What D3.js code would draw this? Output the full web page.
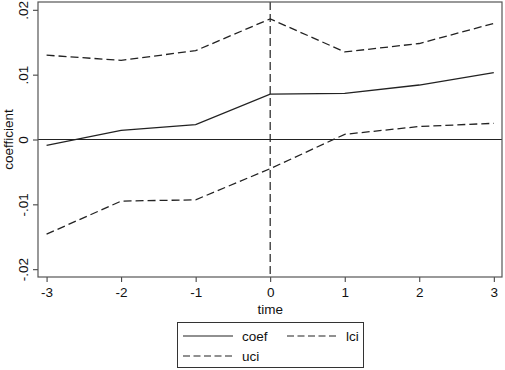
<html lang="en">
<head>
<meta charset="utf-8">
<title>coefficient by time</title>
<style>
    body { margin: 0; background-color: white; font-family: "Liberation Sans", Arial, sans-serif; }
    svg { background-color: white; display: block; }
    .axis path { display: none; }
    .axis line { stroke: #333; }
    .axis text { font-family: "Liberation Sans", Arial, sans-serif; font-size: 13.5px; fill: #111; }
    .title { font-size: 13.5px; fill: #111; }
    .legend text { font-size: 13.5px; fill: #111; }
</style>
</head>
<body>
<script src="https://cdnjs.cloudflare.com/ajax/libs/d3/7.8.5/d3.min.js"></script>
<script>
    // data
    var times = [-3, -2, -1, 0, 1, 2, 3];
    var coef = [-0.0009, 0.0014, 0.0023, 0.0070, 0.0071, 0.0084, 0.0103];
    var lci = [-0.0146, -0.0095, -0.0093, -0.0045, 0.0008, 0.0020, 0.0025];
    var uci = [0.0130, 0.0122, 0.0137, 0.0186, 0.0135, 0.0148, 0.0179];
    var yTicks = [-0.02, -0.01, 0, 0.01, 0.02];
    var xTicks = [-3, -2, -1, 0, 1, 2, 3];

    var fullwidth = 505, fullheight = 370;
    var margin = { top: 2, right: 3, bottom: 93, left: 38 };
    var width = fullwidth - margin.left - margin.right;
    var height = fullheight - margin.top - margin.bottom;

    var root = d3.select("body").append("svg")
        .attr("width", fullwidth)
        .attr("height", fullheight);

    var svg = root.append("g")
        .attr("transform", "translate(" + margin.left + "," + margin.top + ")");

    var xScale = d3.scaleLinear().domain([-3.115, 3.11]).range([0, width]);
    var yScale = d3.scaleLinear().domain([-0.0212, 0.0212]).range([height, 0]);

    // stata style labels: ".01", "-.02", plain hyphen
    var yFmt = function(d) {
        if (d === 0) return "0";
        var s = Math.abs(d).toFixed(2).replace(/^0/, "");
        return (d < 0 ? "-" : "") + s;
    };
    var xFmt = function(d) { return (d < 0 ? "-" : "") + Math.abs(d); };

    var yAxis = d3.axisLeft(yScale).tickValues(yTicks).tickSize(5).tickPadding(3).tickFormat(yFmt);
    var gy = svg.append("g").attr("class", "y axis").call(yAxis);
    gy.selectAll("text")
        .attr("transform", "rotate(-90)")
        .attr("x", 0)
        .attr("y", -10)
        .attr("dy", "0")
        .style("text-anchor", "middle");

    var xAxis = d3.axisBottom(xScale).tickValues(xTicks).tickSize(5).tickPadding(5).tickFormat(xFmt);
    svg.append("g").attr("class", "x axis")
        .attr("transform", "translate(0," + height + ")")
        .call(xAxis);

    // zero line
    svg.append("line")
        .attr("x1", 0).attr("x2", width)
        .attr("y1", yScale(0)).attr("y2", yScale(0))
        .attr("stroke", "#222").attr("stroke-width", 1.2);

    // vertical reference line at 0
    svg.append("line")
        .attr("x1", xScale(0)).attr("x2", xScale(0))
        .attr("y1", 0).attr("y2", height)
        .attr("stroke", "#222").attr("stroke-width", 1.2)
        .attr("stroke-dasharray", "8,4");

    var series = [
        { name: "coef", values: coef, dash: null },
        { name: "lci", values: lci, dash: "8,4" },
        { name: "uci", values: uci, dash: "8,4" }
    ];

    var line = d3.line()
        .x(function(d, i) { return xScale(times[i]); })
        .y(function(d) { return yScale(d); });

    series.forEach(function(s) {
        svg.append("path")
            .datum(s.values)
            .attr("d", line)
            .attr("fill", "none")
            .attr("stroke", "#222")
            .attr("stroke-width", 1.3)
            .attr("stroke-dasharray", s.dash);
    });

    // frame
    svg.append("rect")
        .attr("width", width).attr("height", height)
        .attr("fill", "none")
        .attr("stroke", "#555")
        .attr("stroke-width", 1.2);

    // axis titles
    root.append("text")
        .attr("class", "title")
        .attr("transform", "translate(13," + (margin.top + yScale(0)) + ") rotate(-90)")
        .attr("text-anchor", "middle")
        .text("coefficient");

    root.append("text")
        .attr("class", "title")
        .attr("x", margin.left + xScale(0))
        .attr("y", 314)
        .attr("text-anchor", "middle")
        .text("time");

    // legend
    var legend = root.append("g").attr("class", "legend");
    legend.append("rect")
        .attr("x", 177.5).attr("y", 322.5)
        .attr("width", 186).attr("height", 45)
        .attr("fill", "white").attr("stroke", "#333").attr("stroke-width", 1);

    var legendItems = [
        { s: series[0], x: 183, y: 336 },
        { s: series[1], x: 287, y: 336 },
        { s: series[2], x: 183, y: 356 }
    ];
    legendItems.forEach(function(it) {
        legend.append("line")
            .attr("x1", it.x).attr("x2", it.x + 50)
            .attr("y1", it.y).attr("y2", it.y)
            .attr("stroke", "#222").attr("stroke-width", 1.2)
            .attr("stroke-dasharray", it.s.dash ? "7,3.5" : null);
        legend.append("text")
            .attr("x", it.x + 59)
            .attr("y", it.y + 5)
            .text(it.s.name);
    });
</script>
</body>
</html>
